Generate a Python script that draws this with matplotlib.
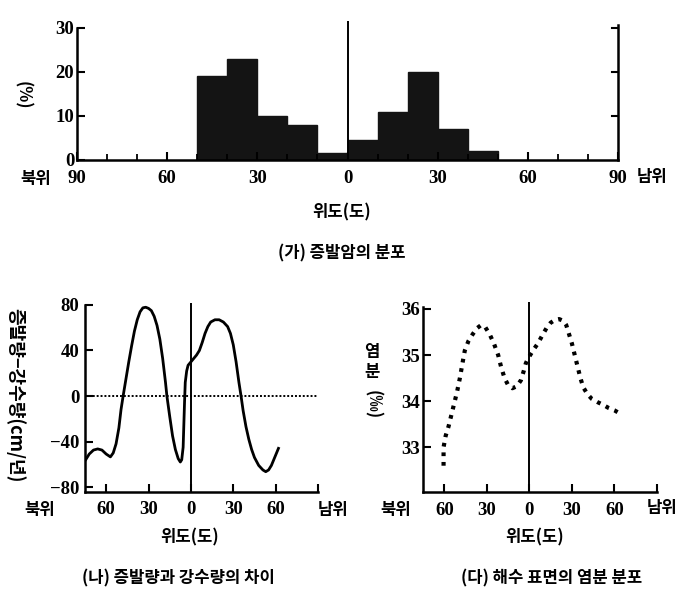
import matplotlib
matplotlib.use('Agg')
import matplotlib.pyplot as plt
import numpy as np

plt.rcParams['font.family'] = ['Noto Sans CJK KR', 'DejaVu Sans']
plt.rcParams['axes.unicode_minus'] = True

# (가) evaporite distribution, 10-degree bins, north negative / south positive
bin_left = [-50, -40, -30, -20, -10, 0, 10, 20, 30, 40]
evaporite_pct = [19, 23, 10, 8, 1.5, 4.5, 11, 20, 7, 2]

# (나) evaporation - precipitation (cm/yr)
ep_lat = [-74.5, -72, -69, -66, -63, -60, -57, -55, -53, -51, -49.5, -48, -46, -44,
          -42, -40, -38, -36, -34, -32, -30, -28, -26, -24, -22, -20, -18, -17,
          -15, -13, -11, -9, -7.5, -6.5, -5.5, -5, -4.5, -4, -3, -2, 0, 2, 4, 6,
          8, 10, 12, 14, 17, 20, 23, 26, 28, 30, 32, 34, 35.5, 37, 39, 41, 43,
          45, 48, 51, 53, 55, 57, 59, 62]
ep_val = [-56, -51, -47.5, -46.5, -47.5, -51, -53.5, -50, -42, -28, -12, 0, 15, 30,
          44, 57, 67, 74, 77.5, 78, 77, 75, 70, 62, 50, 33, 12, 0,
          -18, -35, -47, -55, -58, -56, -45, -25, -5, 12, 22, 27, 30, 33, 36, 40,
          47, 55, 61, 65, 67, 67, 65, 61, 55, 45, 30, 12, 0, -13, -27, -38, -47,
          -54, -61, -65, -66.5, -65, -61, -55, -46]

# (다) sea surface salinity (permil)
sal_lat = [-60.5, -60.5, -59, -57, -55, -53, -51, -49, -47, -45.5, -43, -40, -37,
           -34, -31, -28, -25, -22, -20, -17.5, -15, -12, -9, -6, -4, -2.5, -1,
           1, 3, 6, 9, 12, 15, 18, 21, 24, 26, 28, 30, 32, 34, 36, 38, 41, 44,
           48, 52, 56, 60, 64]
sal_val = [32.6, 33.0, 33.25, 33.45, 33.7, 33.95, 34.2, 34.5, 34.85, 35.1, 35.3,
           35.45, 35.58, 35.65, 35.6, 35.45, 35.25, 35.0, 34.75, 34.5, 34.35,
           34.28, 34.32, 34.45, 34.65, 34.82, 34.92, 35.02, 35.12, 35.25, 35.42,
           35.58, 35.7, 35.76, 35.78, 35.74, 35.65, 35.45, 35.25, 35.0, 34.75,
           34.5, 34.3, 34.15, 34.05, 33.98, 33.92, 33.85, 33.8, 33.73]

W, H = 683, 591
fig = plt.figure(figsize=(W / 100, H / 100), dpi=100)

num_font = dict(family=['Liberation Serif', 'DejaVu Serif'], weight='bold', size=13.5)
kor_font = dict(family=['Noto Sans CJK KR', 'DejaVu Sans'], weight='bold', size=12)


def px_axes(x0, y0, x1, y1):
    # pixel box (left, top, right, bottom) -> figure axes
    return fig.add_axes([x0 / W, 1 - y1 / H, (x1 - x0) / W, (y1 - y0) / H])


def ptext(x, y, s, **kw):
    fig.text(x / W, 1 - y / H, s, ha='center', va='center', **kw)


def style_axes(ax):
    for sp in ax.spines.values():
        sp.set_linewidth(1.8)
    ax.spines['top'].set_visible(False)
    ax.tick_params(direction='in', width=1.5, length=6, pad=4)
    ax.tick_params(axis='x', pad=7)
    for lab in ax.get_xticklabels() + ax.get_yticklabels():
        lab.set_fontfamily(num_font['family'])
        lab.set_fontweight('bold')
        lab.set_fontsize(num_font['size'])


# ---------- (가) ----------
ax1 = px_axes(77, 21.4, 618, 160)
ax1.bar(bin_left, evaporite_pct, width=10, align='edge', color='#141414', edgecolor='#141414')
ax1.set_xlim(-90, 90)
ax1.set_ylim(0, 31.5)
ax1.set_xticks([-90, -60, -30, 0, 30, 60, 90])
ax1.set_xticklabels(['90', '60', '30', '0', '30', '60', '90'])
ax1.set_xticks(np.arange(-80, 90, 10), minor=True)
ax1.set_yticks([0, 10, 20, 30])
ax1.spines['left'].set_bounds(0, 30)
ax1.spines['right'].set_bounds(0, 30.6)
ax1.vlines(0, 0, 31.5, color='black', lw=1.4)
for yv in [10, 20, 30]:
    ax1.plot([88, 90], [yv, yv], color='black', lw=1.5, clip_on=False)
style_axes(ax1)
ax1.tick_params(axis='x', which='minor', direction='in', length=4, width=1.3)
ax1.tick_params(axis='y', pad=2)
ptext(36, 179, '북위', **kor_font)
ptext(652, 177, '남위', **kor_font)
ptext(22, 95, '(%)', rotation=270, **kor_font)
ptext(342, 212, '위도(도)', **kor_font)
ptext(342, 253, '(가) 증발암의 분포', **kor_font)

# ---------- (나) ----------
ax2 = px_axes(85, 302.7, 318, 491.6)
ax2.plot(ep_lat, ep_val, color='black', lw=2.0)
ax2.plot([-75, 90], [0, 0], color='black', lw=1.4, linestyle=(0, (1, 1)))
ax2.vlines(0, -84, 82, color='black', lw=1.4)
ax2.set_xlim(-75, 90)
ax2.set_ylim(-84, 82)
ax2.set_xticks([-60, -30, 0, 30, 60, 90])
ax2.set_xticklabels(['60', '30', '0', '30', '60', ''])
ax2.set_yticks([80, 40, 0, -40, -80])
ax2.spines['right'].set_visible(False)
ax2.spines['left'].set_bounds(-84, 80)
style_axes(ax2)
ptext(40, 510, '북위', **kor_font)
ptext(333, 510, '남위', **kor_font)
ptext(15, 395, '증발량−강수량(cm/년)', rotation=270,
      family=kor_font['family'], weight='bold', size=13)
ptext(190, 537, '위도(도)', **kor_font)
ptext(178, 578, '(나) 증발량과 강수량의 차이', **kor_font)

# ---------- (다) ----------
ax3 = px_axes(423, 302, 657, 492)
ax3.plot(sal_lat, sal_val, color='black', lw=3.0, linestyle=(0, (0.9, 1.4)))
ax3.vlines(0, 32.03, 36.15, color='black', lw=1.4)
ax3.set_xlim(-75, 90)
ax3.set_ylim(32.03, 36.15)
ax3.set_xticks([-60, -30, 0, 30, 60, 90])
ax3.set_xticklabels(['60', '30', '0', '30', '60', ''])
ax3.set_yticks([33, 34, 35, 36])
ax3.spines['right'].set_visible(False)
ax3.spines['left'].set_bounds(32.03, 36.05)
style_axes(ax3)
ax3.tick_params(axis='y', pad=2)
ptext(396, 510, '북위', **kor_font)
ptext(662, 508, '남위', **kor_font)
ptext(372, 352, '염', **kor_font)
ptext(372, 372, '분', **kor_font)
ptext(372, 405, '(‰)', rotation=270, **kor_font)
ptext(535, 537, '위도(도)', **kor_font)
ptext(552, 578, '(다) 해수 표면의 염분 분포', **kor_font)

fig.savefig('out.png', dpi=100)
